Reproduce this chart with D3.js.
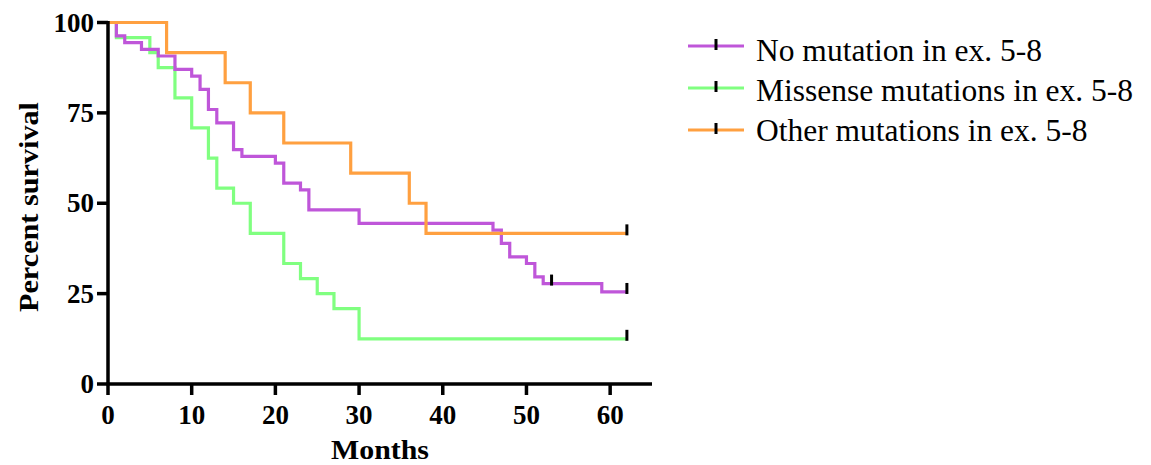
<!DOCTYPE html>
<html>
<head>
<meta charset="utf-8">
<script src="https://cdn.jsdelivr.net/npm/d3@7"></script>
<style>
  body { margin: 0; background: #fff; }
  .tick-label { font-family: "Liberation Serif", "Times New Roman", serif; font-weight: bold; font-size: 27px; }
  .axis-title { font-family: "Liberation Serif", "Times New Roman", serif; font-weight: bold; font-size: 28px; }
  .legend-text { font-family: "Liberation Serif", "Times New Roman", serif; font-size: 31.5px; }
</style>
</head>
<body>
<div id="chart"></div>
<script>
// survival data (months, percent)
const noMutTimes = [1, 2, 4, 6, 8, 10, 11, 12, 13, 15, 16, 20, 21, 23, 24, 30, 46, 47, 48, 50, 51, 52, 59]
const noMutValues = [96.30, 94.44, 92.59, 90.74, 87.04, 85.19, 81.48, 75.93, 72.22, 64.81, 62.96, 61.11, 55.56, 53.70, 48.15, 44.44, 42.59, 38.89, 35.19, 33.33, 29.63, 27.78, 25.46]
const noMutCensored = [53, 62]

const missenseTimes = [1, 5, 6, 8, 10, 12, 13, 15, 17, 21, 23, 25, 27, 30]
const missenseValues = [95.83, 91.67, 87.5, 79.17, 70.83, 62.5, 54.17, 50, 41.67, 33.33, 29.17, 25, 20.83, 12.5]
const missenseCensored = [62]

const otherTimes = [7, 14, 17, 21, 29, 36, 38]
const otherValues = [91.67, 83.33, 75, 66.67, 58.33, 50, 41.67]
const otherCensored = [62]

const seriesNames = ['No mutation in ex. 5-8', 'Missense mutations in ex. 5-8', 'Other mutations in ex. 5-8']
const seriesColors = ['#bf56d9', '#80ff80', '#ffa040']
const xTicks = [0, 10, 20, 30, 40, 50, 60]
const yTicks = [0, 25, 50, 75, 100]
const endTime = 62

const WIDTH = 1151
const HEIGHT = 465

const svg = d3.select('#chart')
  .append('svg')
  .attr('width', WIDTH)
  .attr('height', HEIGHT)

const x = d3.scaleLinear().domain([0, 65]).range([108, 652])
const y = d3.scaleLinear().domain([0, 100]).range([384, 22.5])

const series = [
  { times: noMutTimes, values: noMutValues, censored: noMutCensored },
  { times: missenseTimes, values: missenseValues, censored: missenseCensored },
  { times: otherTimes, values: otherValues, censored: otherCensored }
]

// value of a curve at time t
function survivalAt(s, t) {
  let v = 100
  s.times.forEach((tt, i) => { if (tt <= t) v = s.values[i] })
  return v
}

const line = d3.line()
  .x(d => x(d[0]))
  .y(d => y(d[1]))
  .curve(d3.curveStepAfter)

// green first, then purple, orange on top
const order = [1, 0, 2]
order.forEach(i => {
  const s = series[i]
  const pts = [[0, 100]].concat(s.times.map((t, j) => [t, s.values[j]]))
  pts.push([endTime, s.values[s.values.length - 1]])
  svg.append('path')
    .attr('d', line(pts))
    .attr('fill', 'none')
    .attr('stroke', seriesColors[i])
    .attr('stroke-width', 3.2)
})

series.forEach(s => {
  svg.selectAll(null)
    .data(s.censored)
    .enter()
    .append('line')
    .attr('x1', d => x(d))
    .attr('x2', d => x(d))
    .attr('y1', d => y(survivalAt(s, d)) - 9)
    .attr('y2', d => y(survivalAt(s, d)) + 2)
    .attr('stroke', '#000')
    .attr('stroke-width', 3)
})

// axes
const yAxis = svg.append('g')
yAxis.append('line')
  .attr('x1', x(0)).attr('x2', x(0))
  .attr('y1', y(100) - 1.5).attr('y2', y(0))
  .attr('stroke', '#000').attr('stroke-width', 3.5)
yAxis.selectAll('.ytick')
  .data(yTicks)
  .enter()
  .append('line')
  .attr('x1', x(0) - 11).attr('x2', x(0))
  .attr('y1', d => y(d)).attr('y2', d => y(d))
  .attr('stroke', '#000').attr('stroke-width', 3.5)
yAxis.selectAll('.ylabel')
  .data(yTicks)
  .enter()
  .append('text')
  .attr('class', 'tick-label')
  .attr('text-anchor', 'end')
  .attr('x', x(0) - 14)
  .attr('y', d => y(d) + 9)
  .text(d => d)

const xAxis = svg.append('g')
xAxis.append('line')
  .attr('x1', x(0) - 1.5).attr('x2', x(65))
  .attr('y1', y(0)).attr('y2', y(0))
  .attr('stroke', '#000').attr('stroke-width', 3.5)
xAxis.selectAll('.xtick')
  .data(xTicks)
  .enter()
  .append('line')
  .attr('x1', d => x(d)).attr('x2', d => x(d))
  .attr('y1', y(0)).attr('y2', y(0) + 11)
  .attr('stroke', '#000').attr('stroke-width', 3.5)
xAxis.selectAll('.xlabel')
  .data(xTicks)
  .enter()
  .append('text')
  .attr('class', 'tick-label')
  .attr('text-anchor', 'middle')
  .attr('x', d => x(d))
  .attr('y', 424)
  .text(d => d)

svg.append('text')
  .attr('class', 'axis-title')
  .attr('text-anchor', 'middle')
  .attr('x', 380)
  .attr('y', 459)
  .attr('textLength', 98)
  .attr('lengthAdjust', 'spacingAndGlyphs')
  .text('Months')

svg.append('text')
  .attr('class', 'axis-title')
  .attr('text-anchor', 'middle')
  .attr('transform', 'translate(38, 207) rotate(-90)')
  .attr('textLength', 210)
  .attr('lengthAdjust', 'spacingAndGlyphs')
  .text('Percent survival')

// legend
const legend = svg.selectAll('.legend')
  .data(seriesNames)
  .enter()
  .append('g')
  .attr('transform', (d, i) => `translate(688, ${46 + i * 42})`)

legend.append('line')
  .attr('x1', 0).attr('x2', 56)
  .attr('y1', 0).attr('y2', 0)
  .attr('stroke', (d, i) => seriesColors[i])
  .attr('stroke-width', 3.2)

legend.append('line')
  .attr('x1', 28).attr('x2', 28)
  .attr('y1', -7).attr('y2', 4)
  .attr('stroke', '#000')
  .attr('stroke-width', 3)

legend.append('text')
  .attr('class', 'legend-text')
  .attr('x', 68)
  .attr('y', (d, i) => 15 - i * 2)
  .text(d => d)
</script>
</body>
</html>
